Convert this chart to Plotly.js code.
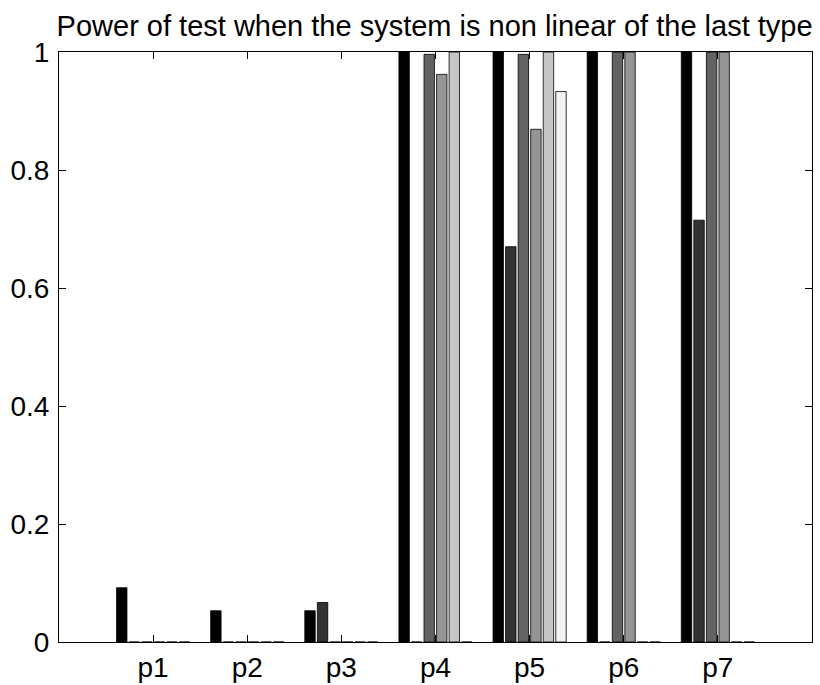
<!DOCTYPE html>
<html>
<head>
<meta charset="utf-8">
<script src="https://cdn.plot.ly/plotly-3.0.1.min.js"></script>
<style>html,body{margin:0;padding:0;background:#fff;}</style>
</head>
<body>
<div id="chart" style="width:820px;height:685px;"></div>
<script>
const categories = [1, 2, 3, 4, 5, 6, 7];
const tickLabels = ["p1", "p2", "p3", "p4", "p5", "p6", "p7"];
const yTickVals = [0, 0.2, 0.4, 0.6, 0.8, 1];
const yTickText = ["0", "0.2", "0.4", "0.6", "0.8", "1"];

const series1 = [0.092, 0.053, 0.053, 1.0, 1.0, 1.0, 1.0];
const series2 = [0, 0, 0.067, 0, 0.670, 0, 0.715];
const series3 = [0, 0, 0, 0.996, 0.996, 1.0, 1.0];
const series4 = [0, 0, 0, 0.962, 0.869, 1.0, 1.0];
const series5 = [0, 0, 0, 1.0, 1.0, 0, 0];
const series6 = [0, 0, 0, 0, 0.933, 0, 0];

const seriesList = [series1, series2, series3, series4, series5, series6];
const colors = ["#000000", "#333333", "#636363", "#959595", "#c6c6c6", "#f2f2f2"];

const traces = seriesList.map((s, i) => ({
  type: "bar",
  x: categories,
  y: s,
  marker: {color: colors[i], line: {color: "#000000", width: 0.8}},
  showlegend: false,
  hoverinfo: "none"
}));

const font = {family: "Liberation Sans, Arial, Helvetica, sans-serif", color: "#000000", size: 28};

const layout = {
  width: 820,
  height: 685,
  margin: {l: 59, r: 8, t: 52, b: 43},
  paper_bgcolor: "#ffffff",
  plot_bgcolor: "#ffffff",
  font: font,
  barmode: "group",
  bargap: 0.2,
  bargroupgap: 0.17,
  title: {
    text: "Power of test when the system is non linear of the last type",
    font: {family: font.family, size: 29, color: "#000000"},
    x: 0.53, xanchor: "center",
    y: 0.962, yanchor: "middle"
  },
  xaxis: {
    range: [0, 8],
    tickvals: categories,
    ticktext: tickLabels,
    ticks: "inside",
    ticklen: 7,
    tickcolor: "#000000",
    showline: true,
    linecolor: "#000000",
    linewidth: 1,
    mirror: "ticks",
    showgrid: false,
    zeroline: false,
    tickfont: {size: 28}
  },
  yaxis: {
    range: [0, 1],
    tickvals: yTickVals,
    ticktext: yTickText,
    ticks: "inside",
    ticklen: 7,
    tickcolor: "#000000",
    showline: true,
    linecolor: "#000000",
    linewidth: 1,
    mirror: "ticks",
    showgrid: false,
    zeroline: false,
    ticklabelstandoff: 3,
    tickfont: {size: 28}
  }
};

Plotly.newPlot("chart", traces, layout, {displayModeBar: false, staticPlot: true});
</script>
</body>
</html>
